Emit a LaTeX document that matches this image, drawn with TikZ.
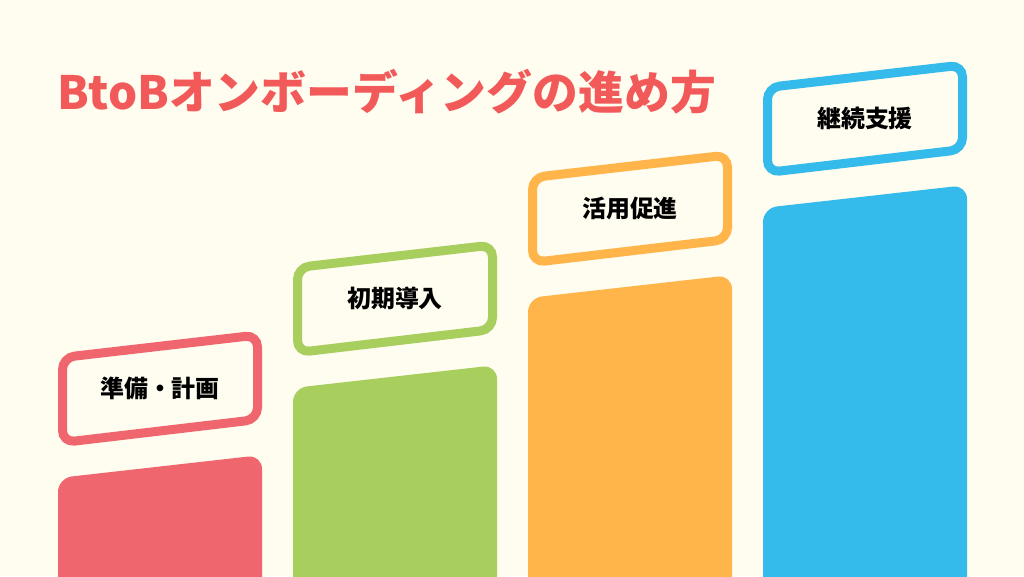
\documentclass[tikz,border=0pt]{standalone}
\usepackage{fontspec}
\newfontfamily\jpfont{Noto Sans CJK JP}
\definecolor{bgcream}{HTML}{FFFCF0}
\definecolor{titlered}{HTML}{F25A5A}
\definecolor{stepred}{HTML}{F0666E}
\definecolor{stepgreen}{HTML}{A8CE5E}
\definecolor{steporange}{HTML}{FFB54A}
\definecolor{stepblue}{HTML}{35BBEB}
\begin{document}
\begin{tikzpicture}[
    x=0.25mm, y=0.25mm,
    stepbar/.style={rounded corners=3.5mm},
    stepframe/.style={line width=2.25mm, rounded corners=3mm},
    steplabel/.style={font=\jpfont\bfseries\fontsize{17}{20}\selectfont, text=black}
]
    \fill[bgcream] (0,0) rectangle (1024,576);
    \clip (0,0) rectangle (1024,576);

    % title
    \node[anchor=west, inner sep=0, text=titlered,
          font=\jpfont\bfseries\fontsize{32.6}{38}\selectfont] (title) at (57,484) {BtoBオンボーディングの進め方};

    % steps: frame with label above a bar
    \foreach \i/\col/\txt in {0/stepred/準備・計画, 1/stepgreen/初期導入, 2/steporange/活用促進, 3/stepblue/継続支援} {
        \fill[stepbar, \col] ({58+235*\i}, -30) -- ({58+235*\i}, {98+90*\i})
            -- ({262+235*\i}, {121+90*\i}) -- ({262+235*\i}, -30) -- cycle;
        \draw[stepframe, draw=\col, fill=bgcream] ({62.5+235*\i}, {133.5+90*\i}) -- ({62.5+235*\i}, {218.5+90*\i})
            -- ({257.5+235*\i}, {241+90*\i}) -- ({257.5+235*\i}, {156.5+90*\i}) -- cycle;
        \node[steplabel] (label\i) at ({160+235*\i}, {187.5+90*\i}) {\txt};
    }
\end{tikzpicture}
\end{document}
